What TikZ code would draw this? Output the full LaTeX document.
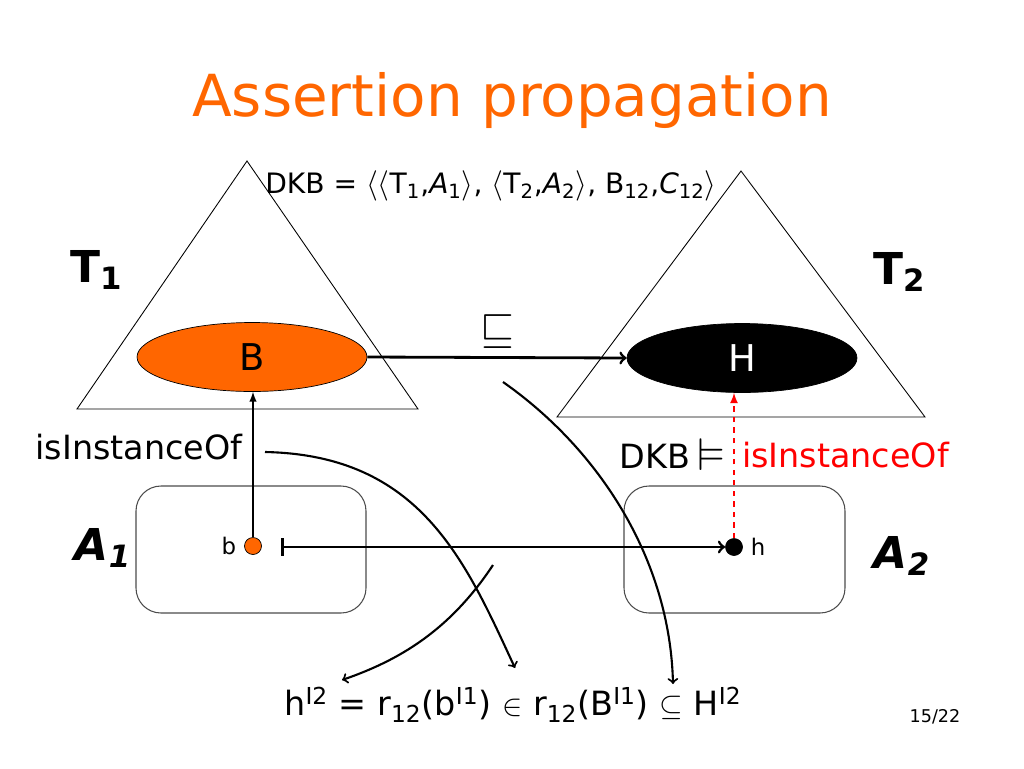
\documentclass[tikz,border=0pt]{standalone}
\usepackage{amssymb}
\usepackage{fontspec}
\setmainfont{DejaVu Sans}
\usetikzlibrary{arrows,shapes.geometric}
\definecolor{TitleClr}{rgb}{1,0.4,0}
\definecolor{ConceptClr}{rgb}{1,0.4,0}
\definecolor{EntailClr}{rgb}{1,0,0}

\begin{document}
\begin{tikzpicture}[x=0.02cm,y=-0.02cm,
  concept/.style={ellipse,draw=black,minimum width=4.6cm,minimum height=1.38cm,inner sep=0pt,font=\fontsize{21}{24}\selectfont},
  abox/.style={draw=black!70,line width=0.6pt,rounded corners=0.5cm},
  tbox/.style={draw=black,line width=0.5pt},
  dot/.style={circle,draw=black,inner sep=0pt,minimum size=0.34cm},
  lbl/.style={font=\fontsize{19}{22}\selectfont},
  big/.style={font=\fontsize{25}{28}\selectfont\bfseries},
  link/.style={line width=1.6pt,->,>=to},
  curve/.style={line width=1.2pt,->,>=to}]
\useasboundingbox (0,0) rectangle (1024,768);

\node[TitleClr,font=\fontsize{33}{40}\selectfont] (title) at (512,100) {Assertion propagation};

\coordinate (T1top) at (247,161);
\coordinate (T1l) at (77,409);
\coordinate (T1r) at (418,409);
\coordinate (T2top) at (741,171);
\coordinate (T2l) at (557,417);
\coordinate (T2r) at (925,417);
\draw[tbox] (T1top) -- (T1l) -- (T1r) -- cycle;
\draw[tbox] (T2top) -- (T2l) -- (T2r) -- cycle;

\draw[abox] (136,486) rectangle (366,613);
\draw[abox] (624,486) rectangle (845,613);

\node[font=\fontsize{16}{19}\selectfont] (dkb) at (491,186) {DKB = $\langle\langle$T\textsubscript{1},\textit{A}\textsubscript{1}$\rangle$, $\langle$T\textsubscript{2},\textit{A}\textsubscript{2}$\rangle$, B\textsubscript{12},\textit{C}\textsubscript{12}$\rangle$};

\node[big] (T1) at (97,270) {T\textsubscript{1}};
\node[big] (T2) at (900,272) {T\textsubscript{2}};
\node[big,font=\fontsize{25}{28}\selectfont\bfseries\itshape] (A1) at (103,548) {A\textsubscript{1}};
\node[big,font=\fontsize{25}{28}\selectfont\bfseries\itshape] (A2) at (902,556) {A\textsubscript{2}};

\node[concept,fill=ConceptClr] (B) at (252,357) {B};
\node[concept,fill=black,text=white] (H) at (742,358) {H};

\node[dot,fill=ConceptClr] (b) at (253,546) {};
\node[dot,fill=black] (h) at (734,547) {};
\node[font=\fontsize{13}{15}\selectfont,left=1pt] (blbl) at (b.west) {b};
\node[font=\fontsize{13}{15}\selectfont,right=1pt] (hlbl) at (h.east) {h};

\node[lbl] (inst1) at (139,447) {isInstanceOf};
\node[lbl,anchor=east,inner sep=1pt] (dkbent) at (692,456) {DKB};
\node[font=\fontsize{26}{28}\selectfont,inner sep=0pt] (ent) at (711,455) {$\vDash$};
\node[lbl,EntailClr,anchor=west,inner sep=1pt] (inst2) at (740,455) {isInstanceOf};

\draw[link] (B.east) -- (H.west);
\node[font=\fontsize{26}{28}\selectfont] (sub) at (497,332) {$\sqsubseteq$};

\draw[->,>=latex,line width=0.9pt] (b.north) -- (b.north |- B.south);
\draw[->,>=latex,line width=1pt,EntailClr,dashed] (h.north) -- (h.north |- H.south);
\coordinate (bstart) at (281,547);
\draw[link,|->] (bstart) -- (h.west);

\node[font=\fontsize{19}{22}\selectfont] (formula) at (513,705) {h\textsuperscript{I2} = r\textsubscript{12}(b\textsuperscript{I1}) $\in$ r\textsubscript{12}(B\textsuperscript{I1}) $\subseteq$ H\textsuperscript{I2}};

\coordinate (c1s) at (265,452);
\coordinate (c1e) at (515,668);
\coordinate (c2s) at (493,565);
\coordinate (c2e) at (342,680);
\coordinate (c3s) at (503,382);
\coordinate (c3e) at (673,684);
\draw[curve] (c1s) .. controls (420,455) and (465,560) .. (c1e);
\draw[curve] (c2s) .. controls (450,630) and (400,660) .. (c2e);
\draw[curve] (c3s) .. controls (600,450) and (670,560) .. (c3e);

\node[font=\fontsize{10}{12}\selectfont] (page) at (935,717) {15/22};
\end{tikzpicture}
\end{document}
